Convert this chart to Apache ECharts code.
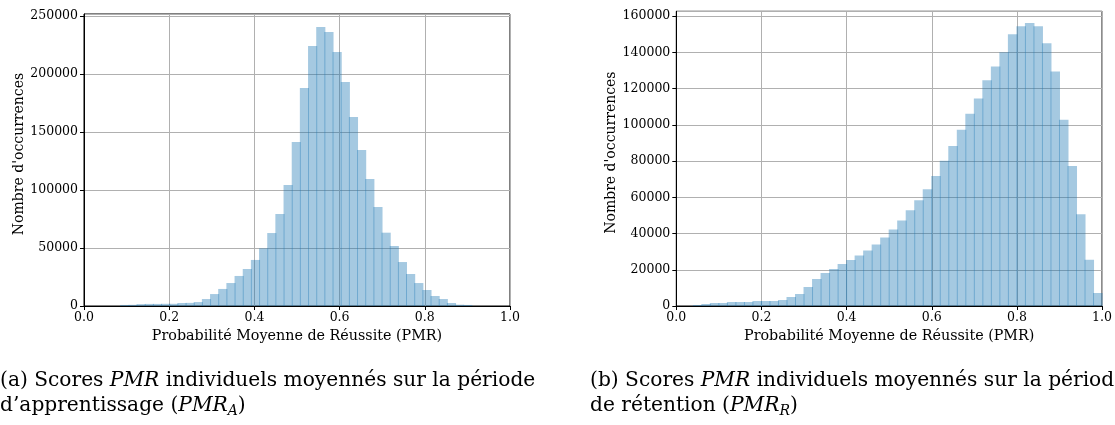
<!DOCTYPE html>
<html><head><meta charset="utf-8">
<script src="https://cdn.jsdelivr.net/npm/echarts@6/dist/echarts.min.js"></script>
<style>html,body{margin:0;padding:0;background:#fff}#c{width:1115px;height:425px}</style>
</head><body><div id="c"></div>
<script>
// ---- Data ----
// (a) learning period: bin edges (left..right) and counts
const edgesA = [0.0862,0.1054,0.1245,0.1437,0.1629,0.1821,0.2012,0.2204,0.2396,0.2587,0.2779,0.2971,0.3162,0.3354,0.3546,0.3738,0.3929,0.4121,0.4313,0.4504,0.4696,0.4888,0.5079,0.5271,0.5463,0.5654,0.5846,0.6038,0.6230,0.6421,0.6613,0.6805,0.6996,0.7188,0.7380,0.7571,0.7763,0.7955,0.8146,0.8338,0.8530,0.8722,0.8913,0.9105];
const countsA = [900,1000,1600,1800,1800,1900,1900,2600,2700,3400,6000,10300,14700,19800,25900,31900,39700,49700,62900,79300,104300,141400,188000,224200,240600,236200,219000,193100,163000,134500,109500,85400,63200,51700,37900,27600,19800,13800,8600,6000,2600,1100,900];
// (b) retention period
const edgesB = [0.04,0.06,0.08,0.10,0.12,0.14,0.16,0.18,0.20,0.22,0.24,0.26,0.28,0.30,0.32,0.34,0.36,0.38,0.40,0.42,0.44,0.46,0.48,0.50,0.52,0.54,0.56,0.58,0.60,0.62,0.64,0.66,0.68,0.70,0.72,0.74,0.76,0.78,0.80,0.82,0.84,0.86,0.88,0.90,0.92,0.94,0.96,0.98,1.00];
const countsB = [550,1100,1650,1650,2200,2200,2200,2750,2750,2750,3300,5000,6600,10500,14900,18200,20400,23200,25400,27800,30600,33900,37800,42200,47200,52800,58300,64400,71700,80200,88300,97200,106100,114500,124500,132200,140000,150000,154400,156100,154400,145000,129400,102800,77200,50600,25500,7200];
// tick labels
const xTicks = [0,0.2,0.4,0.6,0.8,1.0];
const yTicksA = [0,50000,100000,150000,200000,250000];
const yTicksB = [0,20000,40000,60000,80000,100000,120000,140000,160000];
const xTitle = 'Probabilité Moyenne de Réussite (PMR)';
const yTitle = "Nombre d'occurrences";

const FONT = 'DejaVu Serif';
const chart = echarts.init(document.getElementById('c'), null, {renderer:'canvas'});

function hist(edges, counts, idx){
  const data = counts.map((c,i)=>[edges[i], edges[i+1], c]);
  return {
    type:'custom', xAxisIndex:idx, yAxisIndex:idx, data, clip:true,
    encode:{x:[0,1], y:2},
    renderItem(params, api){
      const p0 = api.coord([api.value(0), api.value(2)]);
      const p1 = api.coord([api.value(1), 0]);
      return {type:'rect',
        shape:{x:p0[0]-0.5, y:p0[1], width:p1[0]-p0[0]+1, height:p1[1]-p0[1]},
        style:{fill:'rgba(31,119,180,0.4)'}};
    }
  };
}
function xAxis(idx){
  return {type:'value', gridIndex:idx, min:0, max:1, interval:0.2,
    axisLine:{show:true, onZero:false, lineStyle:{color:'#000', width:1}},
    axisTick:{show:true, length:4, lineStyle:{color:'#000'}},
    axisLabel:{color:'#000', fontFamily:FONT, fontSize:12.5, margin:5,
      formatter:v=> xTicks.some(t=>Math.abs(t-v)<1e-9) ? v.toFixed(1) : ''},
    splitLine:{show:true, lineStyle:{color:'#b0b0b0', width:1}},
    name:xTitle, nameLocation:'middle', nameGap:20,
    nameTextStyle:{color:'#000', fontFamily:FONT, fontSize:14.3}};
}
function yAxis(idx, max, interval, ticks){
  return {type:'value', gridIndex:idx, min:0, max:max, interval:interval,
    axisLine:{show:true, lineStyle:{color:'#000', width:1}},
    axisTick:{show:true, length:4, lineStyle:{color:'#000'}},
    axisLabel:{color:'#000', fontFamily:FONT, fontSize:12.5, margin:6, showMaxLabel:false,
      formatter:v=> ticks.indexOf(v)>=0 ? String(v) : ''},
    splitLine:{show:true, lineStyle:{color:'#b0b0b0', width:1}},
    name:yTitle, nameLocation:'middle', nameGap:58, nameRotate:90,
    nameTextStyle:{color:'#000', fontFamily:FONT, fontSize:14, padding:[0,0,0,12]}};
}

const capStyle = (txt)=>({
  text: txt, fill:'#000', fontFamily:FONT, fontSize:20.2, lineHeight:25,
  rich:{
    i:{fontStyle:'italic', fontFamily:FONT, fontSize:20.2, lineHeight:25, fill:'#000'},
    s:{fontStyle:'italic', fontFamily:FONT, fontSize:14, lineHeight:4, verticalAlign:'bottom', fill:'#000'}
  }
});

chart.setOption({
  animation:false,
  grid:[
    {left:84, right:605, top:14, bottom:119, show:true, borderColor:'#000', borderWidth:1, backgroundColor:'transparent'},
    {left:676.3, right:11.7, top:11.3, bottom:119, show:true, borderColor:'#000', borderWidth:1, backgroundColor:'transparent'}
  ],
  xAxis:[xAxis(0), xAxis(1)],
  yAxis:[yAxis(0, 251700, 50000, yTicksA), yAxis(1, 162600, 20000, yTicksB)],
  series:[hist(edgesA, countsA, 0), hist(edgesB, countsB, 1)],
  graphic:[
    {type:'text', x:0, y:368, style:capStyle('(a) Scores {i|PMR} individuels moyennés sur la période\nd’apprentissage ({i|PMR}{s|A})')},
    {type:'text', x:590, y:368, style:capStyle('(b) Scores {i|PMR} individuels moyennés sur la période\nde rétention ({i|PMR}{s|R})')}
  ]
});
</script></body></html>
